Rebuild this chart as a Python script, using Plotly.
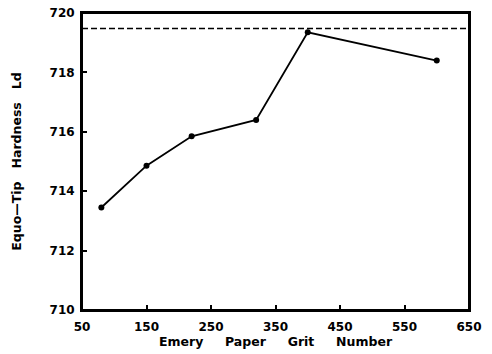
import plotly.graph_objects as go

grit = [80, 150, 220, 320, 400, 600]
hardness = [713.45, 714.86, 715.85, 716.4, 719.35, 718.4]
reference_hardness = 719.48
x_ticks = [50, 150, 250, 350, 450, 550, 650]
y_ticks = [710, 712, 714, 716, 718, 720]

font_family = "DejaVu Sans, Liberation Sans, Arial, sans-serif"

fig = go.Figure()
fig.add_trace(go.Scatter(
    x=grit, y=hardness, mode="lines+markers",
    line=dict(color="black", width=1.8),
    marker=dict(color="black", size=6),
    showlegend=False,
))
fig.add_hline(y=reference_hardness, line=dict(color="black", width=1.6, dash="6px,3px"))
# frame around the plotting area
fig.add_shape(type="rect", xref="x domain", yref="y domain", x0=0, x1=1, y0=0, y1=1,
              line=dict(color="black", width=2), fillcolor="rgba(0,0,0,0)", layer="above")

gap = "\u00a0" * 5
ygap = "\u00a0" * 3
fig.update_layout(
    width=492, height=354,
    margin=dict(l=82, r=23, t=13, b=44),
    paper_bgcolor="white", plot_bgcolor="white",
    font=dict(family=font_family, color="black", weight="bold"),
    xaxis=dict(
        range=[50, 650], tickvals=x_ticks, ticktext=[str(v) for v in x_ticks],
        showline=True, linecolor="black", linewidth=2, mirror=True,
        ticks="inside", ticklen=5, tickcolor="black", tickwidth=1.5,
        showgrid=False, zeroline=False, automargin=False, ticklabelstandoff=5,
        ticklabeloverflow="allow",
        tickfont=dict(size=12, family=font_family, weight="bold", color="black"),
        title=dict(text=f"\u00a0\u00a0Emery{gap}Paper{gap}Grit{gap}Number",
                   font=dict(size=12.5, family=font_family, weight="bold", color="black"),
                   standoff=4),
    ),
    yaxis=dict(
        range=[710, 720], tickvals=y_ticks, ticktext=[str(v) for v in y_ticks],
        showline=True, linecolor="black", linewidth=2, mirror=True,
        ticks="inside", ticklen=5, tickcolor="black", tickwidth=1.5,
        showgrid=False, zeroline=False, automargin=False, ticklabelstandoff=3,
        ticklabeloverflow="allow",
        tickfont=dict(size=12, family=font_family, weight="bold", color="black"),
        title=dict(text=f"Equo\u2014Tip{ygap}Hardness{ygap}Ld",
                   font=dict(size=12.5, family=font_family, weight="bold", color="black"),
                   standoff=25),
    ),
)

fig.write_html("out.html", config={"displayModeBar": False},
               post_script="document.body.style.margin='0';")
